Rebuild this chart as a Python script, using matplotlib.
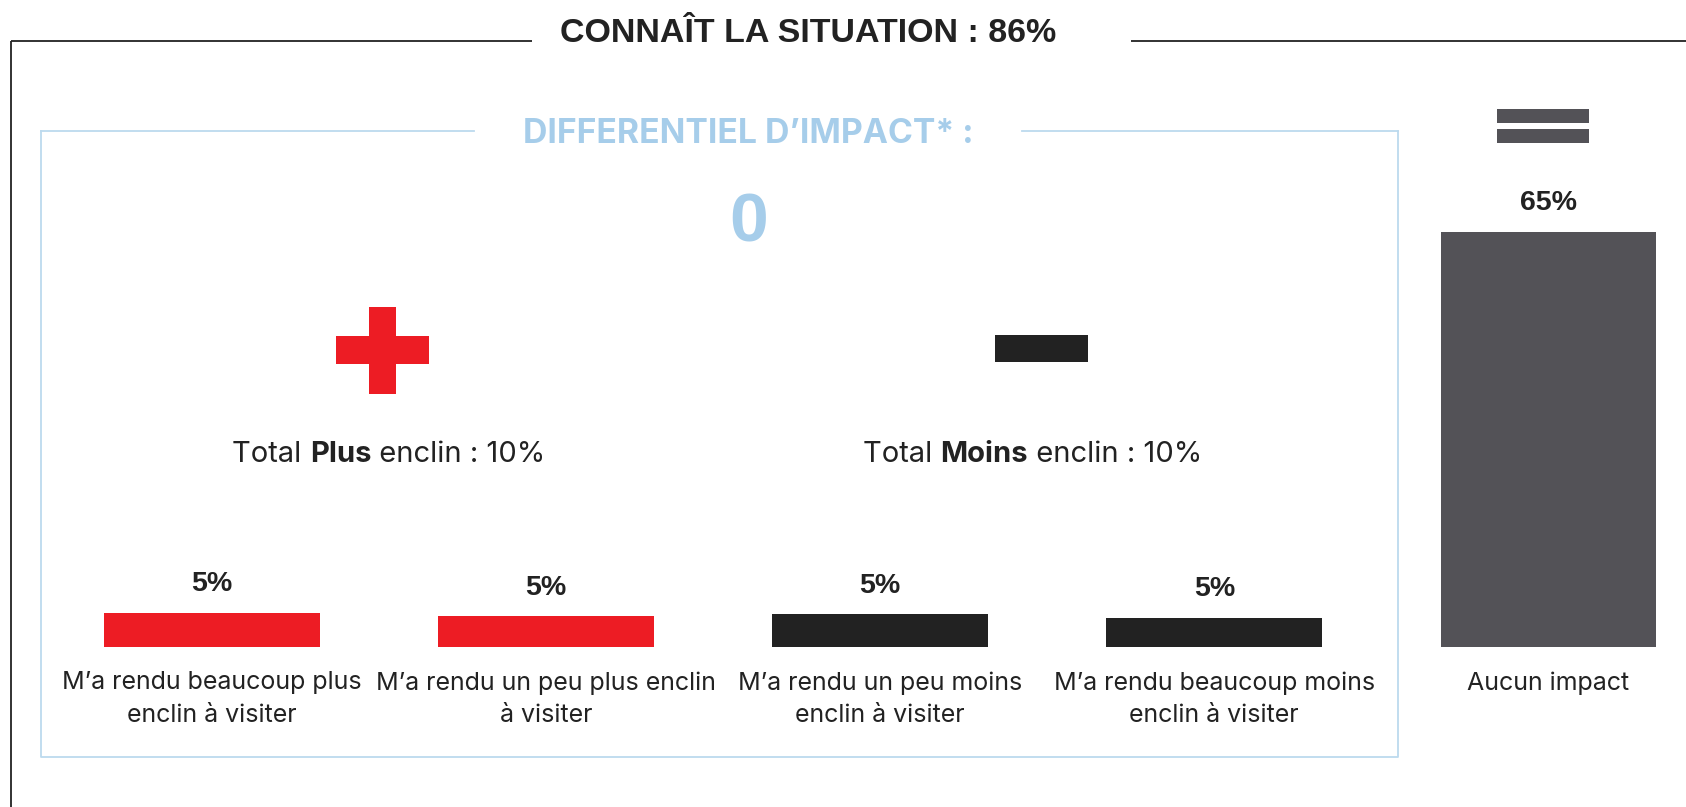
import matplotlib
matplotlib.use("Agg")
import matplotlib.pyplot as plt
from matplotlib.patches import Rectangle

# ---- data ----
categories = [
    "M\u2019a rendu beaucoup plus\nenclin à visiter",
    "M\u2019a rendu un peu plus enclin\nà visiter",
    "M\u2019a rendu un peu moins\nenclin à visiter",
    "M\u2019a rendu beaucoup moins\nenclin à visiter",
    "Aucun impact",
]
values = [5.3, 4.8, 5.1, 4.5, 65.0]
bar_labels = ["5%", "5%", "5%", "5%", "65%"]
bar_colors = ["#ED1C24", "#ED1C24", "#222222", "#222222", "#535257"]
title = "CONNAÎT LA SITUATION : 86%"
subtitle = "DIFFERENTIEL D\u2019IMPACT* :"
differential = "0"
total_plus = ("Total ", "Plus", " enclin : 10%")
total_moins = ("Total ", "Moins", " enclin : 10%")

W, H = 1686, 807
fig = plt.figure(figsize=(W / 100, H / 100), dpi=100)
fig.patch.set_facecolor("white")

# background axes in pixel coordinates for decorations
bg = fig.add_axes([0, 0, 1, 1])
bg.set_xlim(0, W)
bg.set_ylim(H, 0)
bg.axis("off")

BOLD = "Liberation Sans"
REG = "Inter"
BLUE_TXT = "#A6CDEA"
BLUE_LINE = "#BCDAEE"

# outer frame
bg.plot([10.75, 532], [40.9, 40.9], color="#222222", lw=1.3, solid_capstyle="butt")
bg.plot([1131, W], [40.9, 40.9], color="#222222", lw=1.3, solid_capstyle="butt")
bg.plot([10.75, 10.75], [40.9, H], color="#222222", lw=1.3, solid_capstyle="butt")
bg.text(808.6, 34, title, ha="center", va="center", fontsize=24.5,
        fontweight="bold", family=BOLD, color="#222222")

# inner box
bx0, bx1, by0, by1 = 40.9, 1398, 131.2, 757
bg.plot([bx0, 474], [by0, by0], color=BLUE_LINE, lw=1.3)
bg.plot([1021.5, bx1], [by0, by0], color=BLUE_LINE, lw=1.3)
bg.plot([bx0, bx0, bx1, bx1], [by0, by1, by1, by0], color=BLUE_LINE, lw=1.3)
bg.text(748.4, 134, subtitle, ha="center", va="center", fontsize=24.3,
        fontweight="bold", family=REG, color=BLUE_TXT)
bg.text(748.4, 224, differential, ha="center", va="center", fontsize=50,
        fontweight="bold", family=BOLD, color=BLUE_TXT)

# plus sign
red = "#ED1C24"
bg.add_patch(Rectangle((335.6, 336), 93.4, 28, color=red, lw=0))
bg.add_patch(Rectangle((368.9, 306.6), 27, 87, color=red, lw=0))
# minus sign
bg.add_patch(Rectangle((994.8, 335), 93, 26.7, color="#222222", lw=0))
# equal sign
gray = "#535257"
bg.add_patch(Rectangle((1496.7, 109), 92.3, 13.5, color=gray, lw=0))
bg.add_patch(Rectangle((1496.7, 129.3), 92.3, 14, color=gray, lw=0))


def mixed_text(cx, cy, parts, size):
    weights = ["normal", "bold", "normal"]
    texts = []
    for p, w in zip(parts, weights):
        texts.append(bg.text(0, cy, p, ha="left", va="center", fontsize=size,
                             fontweight=w, family=REG, color="#222222"))
    fig.canvas.draw()
    r = fig.canvas.get_renderer()
    widths = [t.get_window_extent(r).width for t in texts]
    total = sum(widths)
    x = cx - total / 2
    for t, wdt in zip(texts, widths):
        t.set_x(x)
        x += wdt


mixed_text(389, 455, total_plus, 21)
mixed_text(1032.3, 455, total_moins, 21)

# bars axes
ax = fig.add_axes([0, 0, 1, 1])
ax.patch.set_alpha(0)
spacing = 334.2
c0 = 211.7
ax.set_xlim(-c0 / spacing, (W - c0) / spacing)
base = 160.3
ppu = 415 / 65.0
ax.set_ylim(-base / ppu, (H - base) / ppu)
ax.axis("off")

x = list(range(len(values)))
ax.bar(x, values, width=0.646, color=bar_colors, linewidth=0)
for xi, v, lab in zip(x, values, bar_labels):
    ax.annotate(lab, xy=(xi, v), xytext=(0, 20.5), textcoords="offset points",
                ha="center", va="center", fontsize=20.5, fontweight="bold",
                family=BOLD, color="#222222")
for xi, cat in zip(x, categories):
    ax.annotate(cat, xy=(xi, 0), xytext=(0, -17.5), textcoords="offset points",
                ha="center", va="top", fontsize=18, family=REG,
                color="#222222", linespacing=1.55, multialignment="center")

fig.savefig("out.png", dpi=100, facecolor="white")
